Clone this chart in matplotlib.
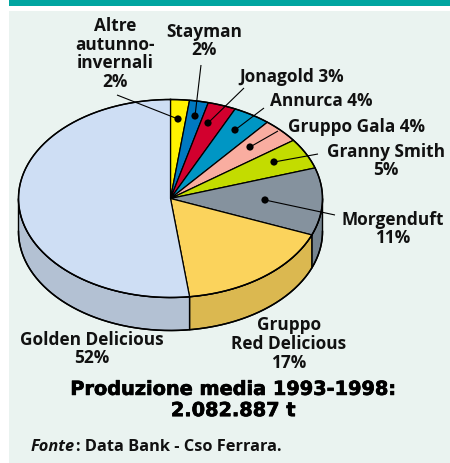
import numpy as np
import matplotlib
matplotlib.use("Agg")
import matplotlib.pyplot as plt
import matplotlib.patheffects as pe
from matplotlib.patches import Polygon, Rectangle, Circle

# clockwise from twelve o'clock
varieties = ["Altre autunno-invernali", "Stayman", "Jonagold", "Annurca", "Gruppo Gala",
             "Granny Smith", "Morgenduft", "Gruppo Red Delicious", "Golden Delicious"]
shares = [2, 2, 3, 4, 4, 5, 11, 17, 52]
top_colors = ["#FFF200", "#0079C1", "#D2002E", "#0096C4", "#F9ADA0",
              "#C3DC00", "#85929E", "#FBD35C", "#CEDEF4"]
side_colors = ["#CCC200", "#00609A", "#A80025", "#00789D", "#C78A80",
               "#9CB000", "#76848F", "#DBB850", "#B3C1D3"]

labels = ["Altre\nautunno-\ninvernali\n2%", "Stayman\n2%", "Jonagold 3%", "Annurca 4%",
          "Gruppo Gala 4%", "Granny Smith\n5%", "Morgenduft\n11%",
          "Gruppo\nRed Delicious\n17%", "Golden Delicious\n52%"]
label_pos = [(115, 54), (204, 41), (292, 77), (321, 101), (357, 127),
             (386, 161), (393, 229), (289, 344), (92, 349)]
dot_pos = [(178, 119), (195, 116), (208, 123), (235, 130), (250, 147), (274, 162), (265, 200)]
line_ends = [(117, 95), (201, 65), (244, 88), (264, 108), (278, 131), (318, 154), (335, 215)]

cx, cy, rx, ry, depth = 170.5, 198.5, 152, 99, 33
FONT = ["Open Sans", "DejaVu Sans"]


def rim(a0, a1, n=100):
    # points on the top ellipse, angles measured clockwise from the top
    t = np.radians(np.linspace(a0, a1, n))
    return np.column_stack([cx + rx * np.sin(t), cy - ry * np.cos(t)])


fig = plt.figure(figsize=(4.5, 4.63), dpi=100)
ax = fig.add_axes([0, 0, 1, 1])
ax.set_xlim(0, 450)
ax.set_ylim(463, 0)
ax.axis("off")

ax.add_patch(Rectangle((0, 0), 450, 463, fc="white", ec="none"))
ax.add_patch(Rectangle((9, 0), 441, 6, fc="#00A5A0", ec="none"))
ax.add_patch(Rectangle((9, 11), 441, 452, fc="#EAF3F0", ec="none"))

edges = np.cumsum([0] + shares) * 3.6

# side wall first, only the part that faces the viewer
for a0, a1, col in zip(edges[:-1], edges[1:], side_colors):
    lo, hi = max(a0, 90), min(a1, 270)
    if lo >= hi:
        continue
    arc = rim(lo, hi)
    low = arc + [0, depth]
    ax.add_patch(Polygon(np.vstack([arc, low[::-1]]), closed=True, fc=col, ec="black", lw=1.0))

for a0, a1, col in zip(edges[:-1], edges[1:], top_colors):
    ax.add_patch(Polygon(np.vstack([[cx, cy], rim(a0, a1)]), closed=True, fc=col, ec="black", lw=0.9))

# outline on top of the slices
ol = rim(0, 360, 400)
ax.plot(ol[:, 0], ol[:, 1], color="black", lw=1.1)
low = rim(90, 270, 200) + [0, depth]
ax.plot(low[:, 0], low[:, 1], color="black", lw=1.1)

for (x0, y0), (x1, y1) in zip(dot_pos, line_ends):
    ax.plot([x0, x1], [y0, y1], color="black", lw=0.8, solid_capstyle="butt")
    ax.add_patch(Circle((x0, y0), 3.6, fc="black", ec="none"))

for txt, (x, y) in zip(labels, label_pos):
    ax.text(x, y, txt, ha="center", va="center", fontsize=12.4, fontweight="bold",
            family=FONT, linespacing=1.05, color="#111111")

# heavier than plain bold, so give it a thin stroke
ax.text(233, 400, "Produzione media 1993-1998:\n2.082.887 t", ha="center", va="center",
        fontsize=13.9, fontweight="bold", family=["DejaVu Sans"], linespacing=1.15, color="black",
        path_effects=[pe.withStroke(linewidth=0.5, foreground="black")])

ax.text(31, 447, "Fonte", ha="left", va="center", fontsize=11.8, fontweight="bold",
        style="italic", family=FONT, color="#111111")
ax.text(76, 447, ": Data Bank - Cso Ferrara.", ha="left", va="center", fontsize=11.8,
        fontweight="bold", family=FONT, color="#111111")

fig.savefig("out.png", dpi=100)
